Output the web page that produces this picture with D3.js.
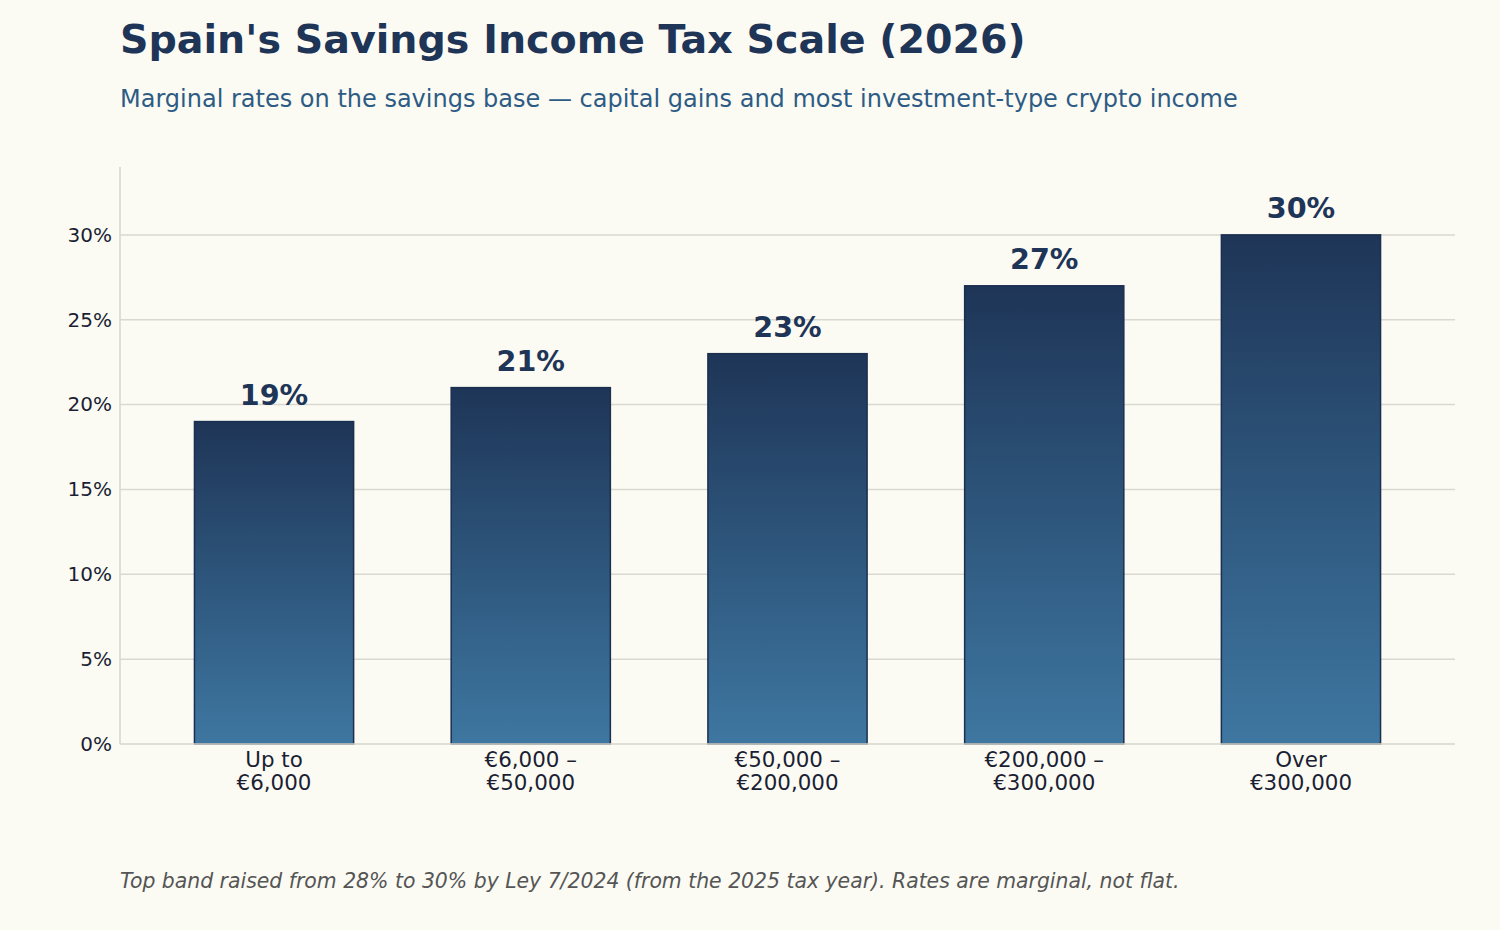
<!DOCTYPE html>
<html>
<head>
<meta charset="utf-8">
<script src="https://cdn.jsdelivr.net/npm/d3@7"></script>
<style>
  html, body { margin: 0; padding: 0; background: #fbfbf4; }
  svg { display: block; font-family: "DejaVu Sans", sans-serif; }
</style>
</head>
<body>
<svg id="chart" width="1500" height="930"></svg>
<script>
const categories = [["Up to", "€6,000"], ["€6,000 –", "€50,000"], ["€50,000 –", "€200,000"], ["€200,000 –", "€300,000"], ["Over", "€300,000"]];
const rates = [19, 21, 23, 27, 30];
const yTicks = [0, 5, 10, 15, 20, 25, 30];
const titleText = "Spain's Savings Income Tax Scale (2026)";
const subtitleText = "Marginal rates on the savings base — capital gains and most investment-type crypto income";
const footnoteText = "Top band raised from 28% to 30% by Ley 7/2024 (from the 2025 tax year). Rates are marginal, not flat.";

const svg = d3.select("#chart");
const W = 1500, H = 930;
svg.append("rect").attr("width", W).attr("height", H).attr("fill", "#fbfbf4");

const m = { left: 120, right: 1455, top: 167, bottom: 744 };

const x = d3.scaleLinear().domain([-0.6, 4.6]).range([m.left, m.right]);
const y = d3.scaleLinear().domain([0, 34]).range([m.bottom, m.top]);
const barW = 0.62;

const defs = svg.append("defs");
const grad = defs.append("linearGradient").attr("id", "barGrad")
  .attr("x1", 0).attr("y1", 0).attr("x2", 0).attr("y2", 1);
grad.append("stop").attr("offset", "0%").attr("stop-color", "#1e3557");
grad.append("stop").attr("offset", "100%").attr("stop-color", "#3e77a1");

// gridlines
svg.append("g").selectAll("line").data(yTicks.filter(d => d > 0)).join("line")
  .attr("x1", m.left).attr("x2", m.right)
  .attr("y1", d => y(d)).attr("y2", d => y(d))
  .attr("stroke", "#d9d9cf").attr("stroke-width", 1.5);

// y axis
const yAxis = svg.append("g").attr("transform", `translate(${m.left},0)`)
  .call(d3.axisLeft(y).tickValues(yTicks).tickFormat(d => d + "%").tickSize(0).tickPadding(8));
yAxis.select(".domain").remove();
yAxis.selectAll("text").attr("font-size", 20).attr("fill", "#1c1f33").attr("font-family", "DejaVu Sans");

// spines
svg.append("line").attr("x1", m.left).attr("x2", m.left).attr("y1", m.top).attr("y2", m.bottom)
  .attr("stroke", "#d6d6cb").attr("stroke-width", 1.5);

// bars
svg.append("g").selectAll("rect").data(rates).join("rect")
  .attr("x", (d, i) => x(i - barW / 2))
  .attr("width", (d, i) => x(i + barW / 2) - x(i - barW / 2))
  .attr("y", d => y(d))
  .attr("height", d => y(0) - y(d))
  .attr("fill", "url(#barGrad)")
  .attr("stroke", "#1b2f4f").attr("stroke-width", 1.5);

svg.append("line").attr("x1", m.left).attr("x2", m.right).attr("y1", m.bottom).attr("y2", m.bottom)
  .attr("stroke", "#d6d6cb").attr("stroke-width", 1.5);

// value labels
svg.append("g").selectAll("text").data(rates).join("text")
  .attr("x", (d, i) => x(i))
  .attr("y", d => y(d) - 17)
  .attr("text-anchor", "middle")
  .attr("font-size", 28.6).attr("font-weight", "bold").attr("fill", "#1e3557")
  .text(d => d + "%");

// x labels
const xl = svg.append("g").selectAll("text").data(categories).join("text")
  .attr("x", (d, i) => x(i))
  .attr("y", 767)
  .attr("text-anchor", "middle")
  .attr("font-size", 21.4).attr("fill", "#1c1f33");
xl.selectAll("tspan").data(d => d).join("tspan")
  .attr("x", function() { return d3.select(this.parentNode).attr("x"); })
  .attr("dy", (d, j) => j === 0 ? 0 : 23)
  .text(d => d);

// titles
svg.append("text").attr("x", 120).attr("y", 53)
  .attr("font-size", 39.6).attr("font-weight", "bold").attr("fill", "#1e3557")
  .text(titleText);
svg.append("text").attr("x", 120).attr("y", 107)
  .attr("font-size", 24).attr("fill", "#2e5b84")
  .text(subtitleText);
svg.append("text").attr("x", 120).attr("y", 888)
  .attr("font-size", 20.4).attr("font-style", "italic").attr("fill", "#555555")
  .text(footnoteText);
</script>
</body>
</html>
